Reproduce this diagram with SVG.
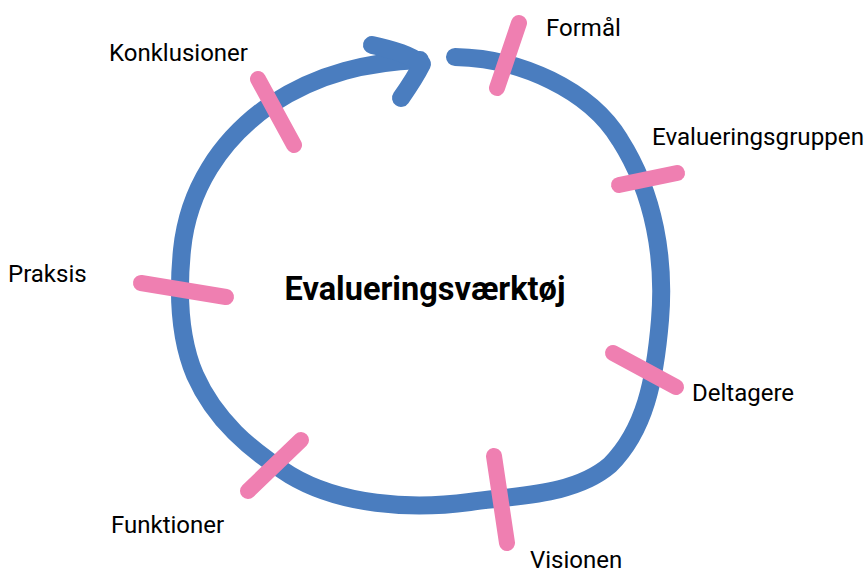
<svg xmlns="http://www.w3.org/2000/svg" width="866" height="573" viewBox="0 0 866 573">
<style>
.loop{fill:none;stroke:#4a7dbf;stroke-width:18;stroke-linecap:round;stroke-linejoin:round}
.tick{fill:none;stroke:#ef7fb1;stroke-width:16;stroke-linecap:round}
.lbl{font-family:Roboto,"Liberation Sans",sans-serif;font-size:24px;fill:#000}
.title{font-family:Roboto,"Liberation Sans",sans-serif;font-size:32.5px;font-weight:bold;fill:#000}
</style>
<rect width="866" height="573" fill="#fff"/>
<g id="connectors">
<path class="loop" d="M455,57 C520,58 590,90 620,140 C655,195 665,260 660,320 C655,380 645,430 610,465 C575,495 520,495 470,502 C410,510 340,505 290,475 C250,450 215,420 195,375 C178,335 178,290 182,250 C188,190 220,140 270,105 C320,72 370,62 420,60"/>
<path class="loop" d="M372,45 C395,50 410,55 422,64 C415,78 408,88 401,98"/>
</g>
<g id="formal"><line class="tick" x1="497" y1="88" x2="519" y2="23"/><text class="lbl" x="546" y="36">Formål</text></g>
<g id="evalueringsgruppen"><line class="tick" x1="619" y1="185" x2="677" y2="173"/><text class="lbl" x="652" y="145" textLength="212" lengthAdjust="spacingAndGlyphs">Evalueringsgruppen</text></g>
<g id="deltagere"><line class="tick" x1="613" y1="353" x2="676" y2="387"/><text class="lbl" x="692" y="401">Deltagere</text></g>
<g id="visionen"><line class="tick" x1="494" y1="456" x2="507" y2="543"/><text class="lbl" x="530" y="568">Visionen</text></g>
<g id="funktioner"><line class="tick" x1="248" y1="491" x2="301" y2="440"/><text class="lbl" x="111" y="533">Funktioner</text></g>
<g id="praksis"><line class="tick" x1="141" y1="283" x2="226" y2="297"/><text class="lbl" x="8" y="282">Praksis</text></g>
<g id="konklusioner"><line class="tick" x1="258" y1="79" x2="294" y2="145"/><text class="lbl" x="109" y="61">Konklusioner</text></g>
<g id="title"><text class="title" x="425" y="300" text-anchor="middle">Evalueringsværktøj</text></g>
</svg>
